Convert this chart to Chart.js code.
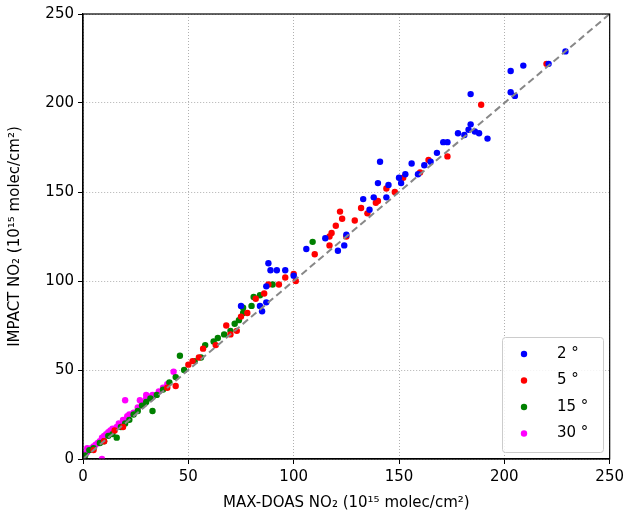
<!DOCTYPE html>
<html>
<head>
<meta charset="utf-8">
<script src="https://cdn.jsdelivr.net/npm/chart.js@4"></script>
<style>
  body { margin: 0; background: #fff; }
  #wrap { width: 628px; height: 518px; }
</style>
</head>
<body>
<div id="wrap"><canvas id="myChart"></canvas></div>
<script>
const labels2 = ['2 °', '5 °', '15 °', '30 °'];
const colors = ['#0000ff', '#ff0000', '#008000', '#ff00ff'];

const blue = [[229,229],[221,222],[209,221],[203,218],[203,206],[205,204],[184,205],[192,180],[188,183],[186,184],[184,188],[183,185],[181,182],[178,183],[173,178],[171,178],[168,172],[165,167],[162,165],[159,160],[156,166],[150,158],[151,155],[153,160],[145,154],[144,147],[141,167],[140,155],[138,147],[136,140],[133,146],[125,126],[124,120],[121,117],[115,124],[106,118],[100,103],[96,106],[92,106],[88,110],[89,106],[87,97],[84,86],[85,83],[75,86],[87,88]];
const red = [[220,222],[189,199],[173,170],[164,168],[160,161],[152,158],[144,152],[148,150],[140,145],[139,144],[135,138],[132,141],[129,134],[125,125],[122,139],[123,135],[120,131],[118,127],[117,120],[117,125],[110,115],[101,100],[100,104],[96,102],[93,98],[88,98],[86,93],[82,90],[78,82],[75,80],[73,72],[70,70],[68,75],[63,64],[57,62],[55,57],[52,55],[50,53],[44,41],[40,40],[19,18],[15,16],[10,10],[5,5]];
const green = [[109,122],[90,98],[84,92],[81,91],[80,86],[76,85],[76,82],[74,78],[72,76],[70,72],[67,70],[64,68],[62,66],[58,64],[56,57],[53,55],[48,50],[46,58],[44,46],[41,43],[38,39],[35,36],[32,34],[30,32],[28,30],[26,27],[24,25],[22,22],[20,20],[18,18],[16,12],[14,14],[12,13],[10,10],[8,9],[5,6],[3,5],[1,2],[33,27]];
const magenta = [[43,49],[40,42],[38,40],[36,38],[33,36],[31,35],[30,34],[28,31],[26,29],[24,26],[22,25],[21,24],[20,33],[19,22],[17,20],[16,18],[14,17],[13,16],[12,15],[11,14],[10,13],[9,12],[8,10],[7,9],[6,8],[5,7],[4,6],[3,5],[2,4],[1,3],[0,1],[9,0],[2,6],[30,36],[27,33]];
const series = [blue, red, green, magenta];
const oneToOne = [[0, 0], [250, 250]];
const ticks = [0, 50, 100, 150, 200, 250];

const toXY = arr => arr.map(p => ({x: p[0], y: p[1]}));

const datasets = [{
  type: 'line',
  label: '1:1',
  data: toXY(oneToOne),
  borderColor: '#888888',
  borderWidth: 2,
  borderDash: [7, 4],
  pointRadius: 0,
  order: 0
}];
series.forEach((s, i) => datasets.push({
  label: labels2[i],
  data: toXY(s),
  backgroundColor: colors[i],
  borderWidth: 0,
  pointRadius: 3.2,
  order: 1
}));

const legendBox = {
  id: 'legendBox',
  afterDraw(chart) {
    const ctx = chart.ctx;
    const a = chart.chartArea;
    ctx.save();
    ctx.strokeStyle = '#000';
    ctx.lineWidth = 1.2;
    ctx.setLineDash([]);
    ctx.strokeRect(a.left, a.top, a.right - a.left, a.bottom - a.top);
    const x = 502, y = 337, w = 101, h = 115;
    ctx.fillStyle = 'rgba(255,255,255,0.85)';
    ctx.strokeStyle = '#cccccc';
    ctx.lineWidth = 1;
    ctx.beginPath();
    ctx.roundRect(x + 0.5, y + 0.5, w, h, 3);
    ctx.fill();
    ctx.stroke();
    ctx.font = '15px "DejaVu Sans"';
    ctx.textBaseline = 'middle';
    labels2.forEach((l, i) => {
      const cy = y + 17 + i * 26.5;
      ctx.fillStyle = colors[i];
      ctx.beginPath();
      ctx.arc(x + 22, cy, 3.2, 0, Math.PI * 2);
      ctx.fill();
      ctx.fillStyle = '#000';
      ctx.fillText(l, x + 55, cy);
    });
    ctx.restore();
  }
};

const axis = (title, fit) => ({
  type: 'linear',
  min: 0,
  max: 250,
  afterBuildTicks: a => { a.ticks = ticks.map(v => ({value: v})); },
  afterFit: fit,
  ticks: { color: '#000', font: { size: 15, family: 'DejaVu Sans' }, padding: 4 },
  grid: { color: '#b0b0b0', tickColor: '#000', tickBorderDash: [], tickLength: 5 },
  border: { color: '#000', width: 1.2, dash: [1, 2] },
  title: { display: true, text: title, color: '#000', font: { size: 15, family: 'DejaVu Sans' }, padding: 2 }
});

new Chart(document.getElementById('myChart'), {
  type: 'scatter',
  data: { datasets },
  options: {
    responsive: true,
    maintainAspectRatio: false,
    animation: false,
    layout: { padding: { left: 4, right: 17, top: 14, bottom: 4 } },
    plugins: { legend: { display: false }, tooltip: { enabled: false } },
    scales: {
      x: axis('MAX-DOAS NO₂ (10¹⁵ molec/cm²)', a => { a.height = 55; }),
      y: axis('IMPACT NO₂ (10¹⁵ molec/cm²)', a => { a.width = 79; })
    }
  },
  plugins: [legendBox]
});
</script>
</body>
</html>
